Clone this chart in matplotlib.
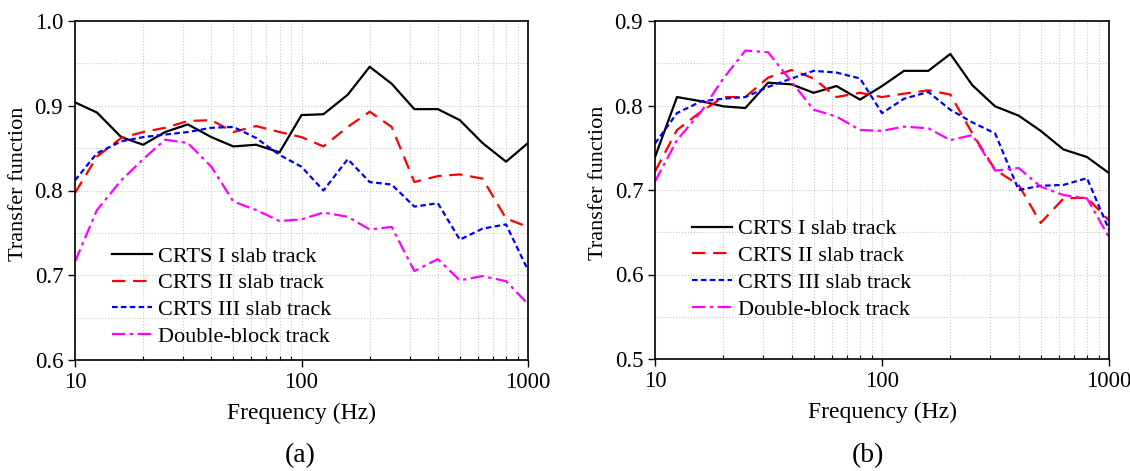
import matplotlib
matplotlib.use("Agg")
import matplotlib.pyplot as plt
import numpy as np
from matplotlib.ticker import MultipleLocator, LogLocator, NullFormatter, FixedLocator, FixedFormatter

plt.rcParams['font.family'] = ['Liberation Serif', 'DejaVu Serif']
plt.rcParams['mathtext.fontset'] = 'stix'

# 1/3 octave centre frequencies
freq = [10, 12.5, 16, 20, 25, 31.5, 40, 50, 63, 80, 100,
        125, 160, 200, 250, 315, 400, 500, 630, 800, 1000]

labels = ["CRTS I slab track", "CRTS II slab track",
          "CRTS III slab track", "Double-block track"]

# (a)
a_crts1 = [0.904, 0.892, 0.863, 0.854, 0.869, 0.878, 0.863, 0.852, 0.854, 0.845, 0.889,
           0.890, 0.913, 0.946, 0.926, 0.896, 0.896, 0.883, 0.856, 0.834, 0.856]
a_crts2 = [0.797, 0.840, 0.862, 0.869, 0.874, 0.882, 0.883, 0.869, 0.876, 0.869, 0.863,
           0.852, 0.875, 0.893, 0.875, 0.810, 0.817, 0.819, 0.814, 0.767, 0.757]
a_crts3 = [0.812, 0.844, 0.858, 0.863, 0.866, 0.869, 0.874, 0.875, 0.862, 0.842, 0.828,
           0.800, 0.837, 0.810, 0.807, 0.781, 0.785, 0.742, 0.755, 0.760, 0.706]
a_double = [0.716, 0.777, 0.812, 0.837, 0.860, 0.856, 0.828, 0.787, 0.777, 0.764, 0.766,
            0.774, 0.769, 0.754, 0.757, 0.705, 0.719, 0.694, 0.699, 0.693, 0.666]

# (b)
b_crts1 = [0.739, 0.810, 0.805, 0.799, 0.797, 0.827, 0.825, 0.815, 0.823, 0.807, 0.823,
           0.841, 0.841, 0.861, 0.824, 0.799, 0.788, 0.770, 0.748, 0.739, 0.720]
b_crts2 = [0.722, 0.771, 0.793, 0.810, 0.810, 0.833, 0.842, 0.832, 0.810, 0.815, 0.810,
           0.814, 0.818, 0.813, 0.767, 0.724, 0.706, 0.661, 0.690, 0.691, 0.664]
b_crts3 = [0.755, 0.791, 0.805, 0.808, 0.810, 0.822, 0.832, 0.841, 0.839, 0.832, 0.791,
           0.808, 0.816, 0.795, 0.780, 0.767, 0.700, 0.705, 0.706, 0.714, 0.653]
b_double = [0.710, 0.759, 0.793, 0.832, 0.865, 0.863, 0.828, 0.795, 0.787, 0.771, 0.770,
            0.775, 0.773, 0.759, 0.765, 0.723, 0.726, 0.704, 0.694, 0.690, 0.644]

styles = [dict(color='black', linestyle='-'),
          dict(color='red', linestyle=(0, (6, 3.5))),
          dict(color='blue', linestyle=(0, (2.5, 1.5))),
          dict(color='magenta', linestyle=(0, (6, 2, 1.5, 2)))]

fig = plt.figure(figsize=(11.3, 4.71), dpi=100)
ax_a = fig.add_axes([75/1130, 1-360/471, 453/1130, 339/471])
ax_b = fig.add_axes([655/1130, 1-359/471, 454/1130, 338/471])


def draw(ax, series, ylim, yticks, leg_y):
    for y, lab, st in zip(series, labels, styles):
        ax.plot(freq, y, label=lab, linewidth=1.6, **st)
    ax.set_xscale('log')
    ax.set_xlim(10, 1000)
    ax.set_ylim(*ylim)
    ax.set_yticks(yticks)
    ax.set_yticklabels([f"{t:.1f}" for t in yticks])
    ax.yaxis.set_minor_locator(MultipleLocator(0.05))
    ax.xaxis.set_major_locator(FixedLocator([10, 100, 1000]))
    ax.xaxis.set_major_formatter(FixedFormatter(['10', '100', '1000']))
    ax.xaxis.set_minor_locator(LogLocator(base=10, subs=np.arange(2, 10)))
    ax.xaxis.set_minor_formatter(NullFormatter())
    ax.grid(True, which='both', color='#c8c8c8', linestyle=':', linewidth=0.8)
    ax.tick_params(axis='both', which='major', direction='out', length=5,
                   width=1, labelsize=16.5, top=False, right=False)
    ax.tick_params(axis='x', which='minor', direction='in', length=3, width=0.8)
    ax.tick_params(axis='y', which='minor', length=0)
    for sp in ax.spines.values():
        sp.set_linewidth(1.2)
    ax.set_xlabel("Frequency (Hz)", fontsize=17, labelpad=7)
    ax.set_ylabel("Transfer function", fontsize=16)
    ax.yaxis.set_label_coords(-0.104, 0.52)
    ax.legend(loc='lower left', bbox_to_anchor=(0.062, leg_y), frameon=False,
              fontsize=16, handlelength=1.8, labelspacing=0.28,
              handletextpad=0.25, borderaxespad=0.0)
    ax.set_axisbelow(True)


draw(ax_a, [a_crts1, a_crts2, a_crts3, a_double], (0.6, 1.0), [0.6, 0.7, 0.8, 0.9, 1.0], 0.012)
draw(ax_b, [b_crts1, b_crts2, b_crts3, b_double], (0.5, 0.9), [0.5, 0.6, 0.7, 0.8, 0.9], 0.09)

fig.text(300/1130, 1-456/471, "(a)", fontsize=20, ha='center', va='center')
fig.text(868/1130, 1-456/471, "(b)", fontsize=20, ha='center', va='center')

fig.savefig("out.png", dpi=100)
